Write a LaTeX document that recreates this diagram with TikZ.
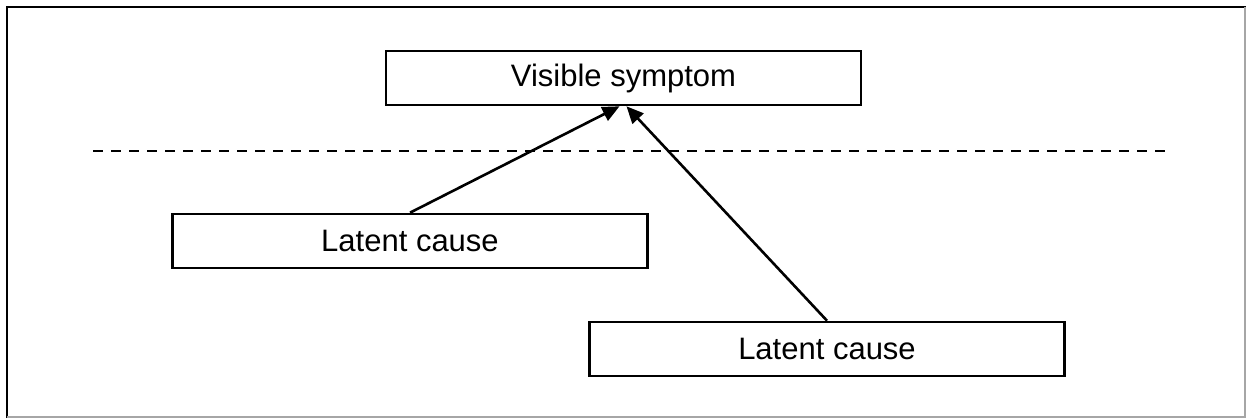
\documentclass[tikz,border=0pt]{standalone}
\usepackage{fontspec}
\setmainfont{Liberation Sans}
\usetikzlibrary{arrows.meta}
\begin{document}
\begin{tikzpicture}[x=1pt,y=-1pt,
  box/.style={draw=black, line width=2.6pt, fill=white, minimum width=475pt,
    minimum height=54pt, inner sep=0pt, font=\fontsize{31}{36}\selectfont},
  link/.style={line width=2.6pt, -{Triangle[length=17pt,width=15pt]}}]
  % page area and frame
  \useasboundingbox (0,0) rectangle (1246,418);
  \draw[line width=2.8pt] (7,418) -- (7,7) -- (1246,7);
  \draw[gray!70, line width=1.8pt] (1245,7) -- (1245,417) -- (7,417);

  % boxes
  \node[box] (sym) at (623.5,78) {Visible symptom};
  \node[box] (c1) at (410,241) {Latent cause};
  \node[box] (c2) at (827,349) {Latent cause};

  % boundary between visible and hidden
  \coordinate (dl) at (93,151);
  \coordinate (dr) at (1166,151);
  \draw[line width=2.6pt, dash pattern=on 10pt off 8pt] (dl) -- (dr);

  % causal links
  \draw[link] (c1.north) -- ([xshift=-4pt]sym.south);
  \draw[link] (c2.north) -- ([xshift=3pt]sym.south);
\end{tikzpicture}
\end{document}
